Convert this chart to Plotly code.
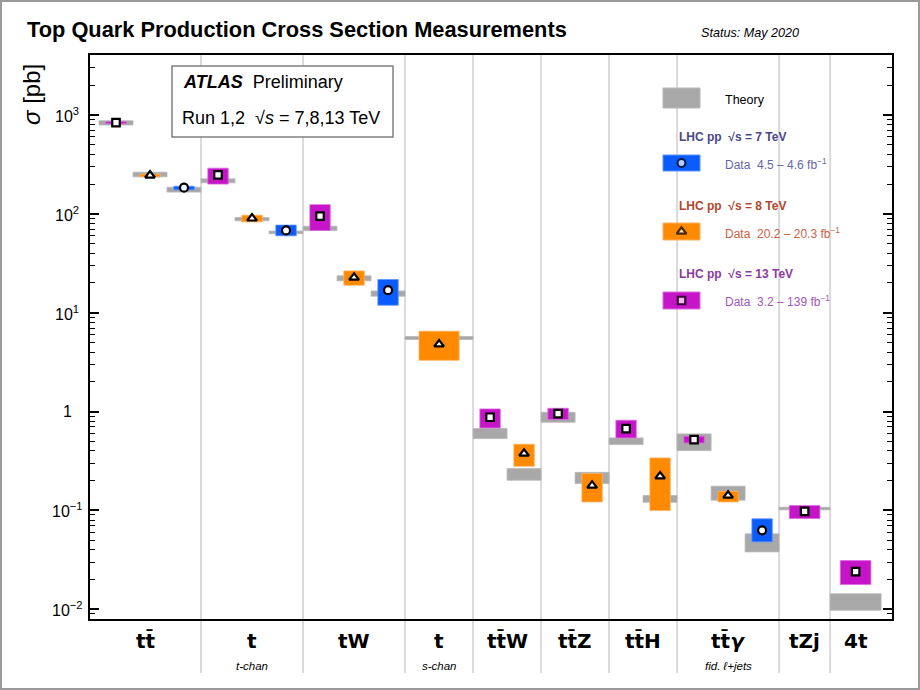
import math
import plotly.graph_objects as go

# ---------------- data ----------------
categories = ["t t\u0304", "t", "tW", "t", "t t\u0304 W", "t t\u0304 Z", "t t\u0304 H", "t t\u0304 <i>γ</i>", "tZj", "4t"]
categories = [c.replace(" ", "") for c in categories]
sub_labels = ["", "<i>t-chan</i>", "", "<i>s-chan</i>", "", "", "", "<i>fid. ℓ+jets</i>", "", ""]

meas_cat = [0, 0, 0, 1, 1, 1, 2, 2, 2, 3, 4, 4, 5, 5, 6, 6, 7, 7, 7, 8, 9]
meas_sqrts = [13, 8, 7, 13, 8, 7, 13, 8, 7, 8, 13, 8, 13, 8, 13, 8, 13, 8, 7, 13, 13]
meas_val = [836, 245, 184, 248, 90, 68, 95, 22.7, 16.9, 4.8, 0.876, 0.376, 0.955, 0.179,
            0.673, 0.222, 0.521, 0.1415, 0.063, 0.098, 0.0241]
meas_lo = [817, 237, 175, 200, 83, 60, 68, 19.0, 11.9, 3.3, 0.684, 0.28, 0.83, 0.122,
           0.542, 0.0998, 0.482, 0.122, 0.0481, 0.0828, 0.0178]
meas_hi = [855, 252, 190, 290, 97, 77, 124, 26.5, 21.7, 6.5, 1.064, 0.467, 1.08, 0.236,
           0.817, 0.340, 0.563, 0.156, 0.0822, 0.112, 0.0311]
theory_lo = [792, 237, 166, 206, 85, 63, 68, 21.0, 14.7, 5.36, 0.533, 0.202, 0.78, 0.187,
             0.464, 0.121, 0.403, 0.127, 0.0381, 0.1014, 0.0098]
theory_hi = [875, 264, 186, 226, 92, 67, 75, 23.6, 16.6, 5.74, 0.673, 0.265, 0.984, 0.243,
             0.542, 0.1415, 0.595, 0.176, 0.058, 0.1077, 0.01435]

y_tick_vals = [0.01, 0.1, 1, 10, 100, 1000]
y_tick_text = ["10<sup>−2</sup>", "10<sup>−1</sup>", "1", "10<sup>1</sup>", "10<sup>2</sup>", "10<sup>3</sup>"]

legend_heads = ["LHC pp  √s = 7 TeV", "LHC pp  √s = 8 TeV", "LHC pp  √s = 13 TeV"]
legend_data = ["Data  4.5 – 4.6 fb<sup>−1</sup>", "Data  20.2 – 20.3 fb<sup>−1</sup>", "Data  3.2 – 139 fb<sup>−1</sup>"]
legend_sqrts = [7, 8, 13]

# ---------------- layout / style ----------------
W, H = 920, 690
ML, MR, MT, MB = 90, 28, 55, 71
PW, PH = W - ML - MR, H - MT - MB


def PX(x):
    return (x - ML) / PW


def PY(y):
    return (H - MB - y) / PH


col_left = [0, 3, 6, 9, 11, 13, 15, 17, 20, 21.5]
col_width = [3, 3, 3, 2, 2, 2, 2, 3, 1.5, 1.5]
data_half = [0.3, 0.3, 0.3, 0.59, 0.3, 0.3, 0.3, 0.3, 0.45, 0.45]
x_range = [-0.265, 23.32]
slot_order = {13: 0, 8: 1, 7: 2}

color = {7: "#0b5cff", 8: "#ff8a00", 13: "#c614c8"}
edge = {7: "#5c93ff", 8: "#ffb060", 13: "#dc6ade"}
symbol = {7: "circle", 8: "triangle-up", 13: "square"}
msize = {7: 8, 8: 8.5, 13: 7.5}
theory_col = "#a8a8a8"
head_col = {7: "#48488a", 8: "#b4462c", 13: "#8c3a9e"}
data_col = {7: "#6666a6", 8: "#cc6244", 13: "#a456b8"}

ncat = [meas_cat.count(i) for i in range(len(categories))]

centers, th_half, dt_half = [], [], []
for k, c in enumerate(meas_cat):
    if ncat[c] == 1:
        centers.append(col_left[c] + col_width[c] / 2)
        th_half.append(col_width[c] / 2)
    else:
        centers.append(col_left[c] + slot_order[meas_sqrts[k]] + 0.5)
        th_half.append(0.5)
    dt_half.append(data_half[c])


def rect_xy(idx, lo, hi, half):
    xs, ys = [], []
    for k in idx:
        x0, x1 = centers[k] - half[k], centers[k] + half[k]
        xs += [x0, x1, x1, x0, x0, None]
        ys += [lo[k], lo[k], hi[k], hi[k], lo[k], None]
    return xs, ys


fig = go.Figure()

# theory bands
tx, ty = rect_xy(range(len(meas_cat)), theory_lo, theory_hi, th_half)
fig.add_trace(go.Scatter(x=tx, y=ty, mode="lines", fill="toself", fillcolor=theory_col,
                         line=dict(color="#b8b8b8", width=0.8), hoverinfo="skip"))

# data boxes
for e in [7, 8, 13]:
    idx = [k for k in range(len(meas_cat)) if meas_sqrts[k] == e]
    dx, dy = rect_xy(idx, meas_lo, meas_hi, dt_half)
    fig.add_trace(go.Scatter(x=dx, y=dy, mode="lines", fill="toself", fillcolor=color[e],
                             line=dict(color=edge[e], width=0.8), hoverinfo="skip"))

# markers
for e in [7, 8, 13]:
    idx = [k for k in range(len(meas_cat)) if meas_sqrts[k] == e]
    fig.add_trace(go.Scatter(x=[centers[k] for k in idx], y=[meas_val[k] for k in idx],
                             mode="markers",
                             marker=dict(symbol=symbol[e], size=msize[e], color="white",
                                         line=dict(color="black", width=2.2))))

# legend markers (overlay axes in paper-like units)
leg_box_y = {7: (155, 171), 8: (223, 240), 13: (292, 309)}
fig.add_trace(go.Scatter(x=[PX(681.5)] * 3,
                         y=[PY((leg_box_y[e][0] + leg_box_y[e][1]) / 2) for e in legend_sqrts],
                         xaxis="x2", yaxis="y2", mode="markers",
                         marker=dict(symbol=[symbol[e] for e in legend_sqrts],
                                     size=[msize[e] for e in legend_sqrts], color="white",
                                     line=dict(color="black", width=2.2))))

shapes = []
# outer frame
shapes.append(dict(type="rect", xref="paper", yref="paper", x0=PX(1), x1=PX(919), y0=PY(689), y1=PY(1),
                   line=dict(color="#9a9a9a", width=2), fillcolor="rgba(0,0,0,0)", layer="below"))
# separators
bounds = [3, 6, 9, 11, 13, 15, 17, 20, 21.5]
for b in bounds:
    shapes.append(dict(type="line", xref="x", yref="paper", x0=b, x1=b, y0=PY(673), y1=1,
                       line=dict(color="#dadada", width=2), layer="below"))
# ATLAS box
shapes.append(dict(type="rect", xref="paper", yref="paper", x0=PX(172), x1=PX(393), y0=PY(137), y1=PY(66),
                   line=dict(color="#808080", width=1.5), fillcolor="white", layer="below"))
# legend boxes
shapes.append(dict(type="rect", xref="paper", yref="paper", x0=PX(663), x1=PX(700), y0=PY(108), y1=PY(88),
                   line=dict(color="#b8b8b8", width=1), fillcolor=theory_col, layer="below"))
for e in legend_sqrts:
    shapes.append(dict(type="rect", xref="paper", yref="paper", x0=PX(663), x1=PX(700),
                       y0=PY(leg_box_y[e][1]), y1=PY(leg_box_y[e][0]),
                       line=dict(color=edge[e], width=1), fillcolor=color[e], layer="below"))

FONT = "Liberation Sans, Arial, sans-serif"
ann = []
ann.append(dict(text="<b>Top Quark Production Cross Section Measurements</b>", x=PX(25), y=PY(30),
                xref="paper", yref="paper", xanchor="left", yanchor="middle", showarrow=False,
                font=dict(family=FONT, size=21.8, color="black")))
ann.append(dict(text="<i>Status: May 2020</i>", x=PX(699), y=PY(33), xref="paper", yref="paper",
                xanchor="left", yanchor="middle", showarrow=False, font=dict(family=FONT, size=12.6, color="black")))
ann.append(dict(text="<b><i>ATLAS</i></b>  Preliminary", x=PX(181), y=PY(82), xref="paper", yref="paper",
                xanchor="left", yanchor="middle", showarrow=False, font=dict(family=FONT, size=18, color="black")))
ann.append(dict(text="Run 1,2  √<i>s</i> = 7,8,13 TeV", x=PX(180), y=PY(118), xref="paper", yref="paper",
                xanchor="left", yanchor="middle", showarrow=False, font=dict(family=FONT, size=18, color="black")))
ann.append(dict(text="<i>σ</i> [pb]", x=PX(31), y=PY(95), xref="paper", yref="paper", textangle=-90,
                xanchor="center", yanchor="middle", showarrow=False, font=dict(family=FONT, size=24, color="black")))
for v, t in zip(y_tick_vals, y_tick_text):
    ann.append(dict(text=t, x=PX(67), y=math.log10(v), xref="paper", yref="y", xanchor="center",
                    yanchor="middle", showarrow=False, font=dict(family=FONT, size=16, color="black")))
lab_bounds = [x_range[0]] + bounds + [23.0]
for i, (c, s) in enumerate(zip(categories, sub_labels)):
    xc = (lab_bounds[i] + lab_bounds[i + 1]) / 2
    ann.append(dict(text="<b>" + c + "</b>", x=xc, y=PY(641), xref="x", yref="paper", xanchor="center",
                    yanchor="middle", showarrow=False, font=dict(family="DejaVu Sans", size=20, color="black")))
    if s:
        ann.append(dict(text=s, x=xc, y=PY(666), xref="x", yref="paper", xanchor="center",
                        yanchor="middle", showarrow=False, font=dict(family=FONT, size=11.5, color="black")))
# legend texts
ann.append(dict(text="Theory", x=PX(723), y=PY(100), xref="paper", yref="paper", xanchor="left",
                yanchor="middle", showarrow=False, font=dict(family=FONT, size=12.5, color="black")))
for e, hy, dy, htxt, dtxt in zip(legend_sqrts, [137, 206, 274], [164, 233, 301], legend_heads, legend_data):
    ann.append(dict(text="<b>" + htxt + "</b>", x=PX(677), y=PY(hy), xref="paper", yref="paper", xanchor="left",
                    yanchor="middle", showarrow=False, font=dict(family=FONT, size=12, color=head_col[e])))
    ann.append(dict(text=dtxt, x=PX(723), y=PY(dy), xref="paper", yref="paper", xanchor="left",
                    yanchor="middle", showarrow=False, font=dict(family=FONT, size=12, color=data_col[e])))

minor_vals = [m * 10 ** d for d in range(-3, 4) for m in range(2, 10)]

fig.update_layout(
    width=W, height=H, margin=dict(l=ML, r=MR, t=MT, b=MB),
    paper_bgcolor="white", plot_bgcolor="white", showlegend=False,
    shapes=shapes, annotations=ann,
    xaxis=dict(range=x_range, showticklabels=False, ticks="", showgrid=False, zeroline=False,
               showline=True, mirror=True, linecolor="black", linewidth=2),
    yaxis=dict(type="log", range=[-2.098, 3.607], tickmode="array", tickvals=y_tick_vals,
               showticklabels=False, ticks="inside", ticklen=9, tickwidth=1.5, tickcolor="black",
               showgrid=False, zeroline=False, showline=True, mirror="allticks",
               linecolor="black", linewidth=2,
               minor=dict(tickmode="array", tickvals=minor_vals, ticks="inside", ticklen=5,
                          tickwidth=1.2, tickcolor="black", showgrid=False)),
    xaxis2=dict(overlaying="x", range=[0, 1], visible=False),
    yaxis2=dict(overlaying="y", range=[0, 1], visible=False),
)

fig.write_html("out.html", config={"displayModeBar": False},
               post_script="document.body.style.margin='0';document.body.style.overflow='hidden';")
